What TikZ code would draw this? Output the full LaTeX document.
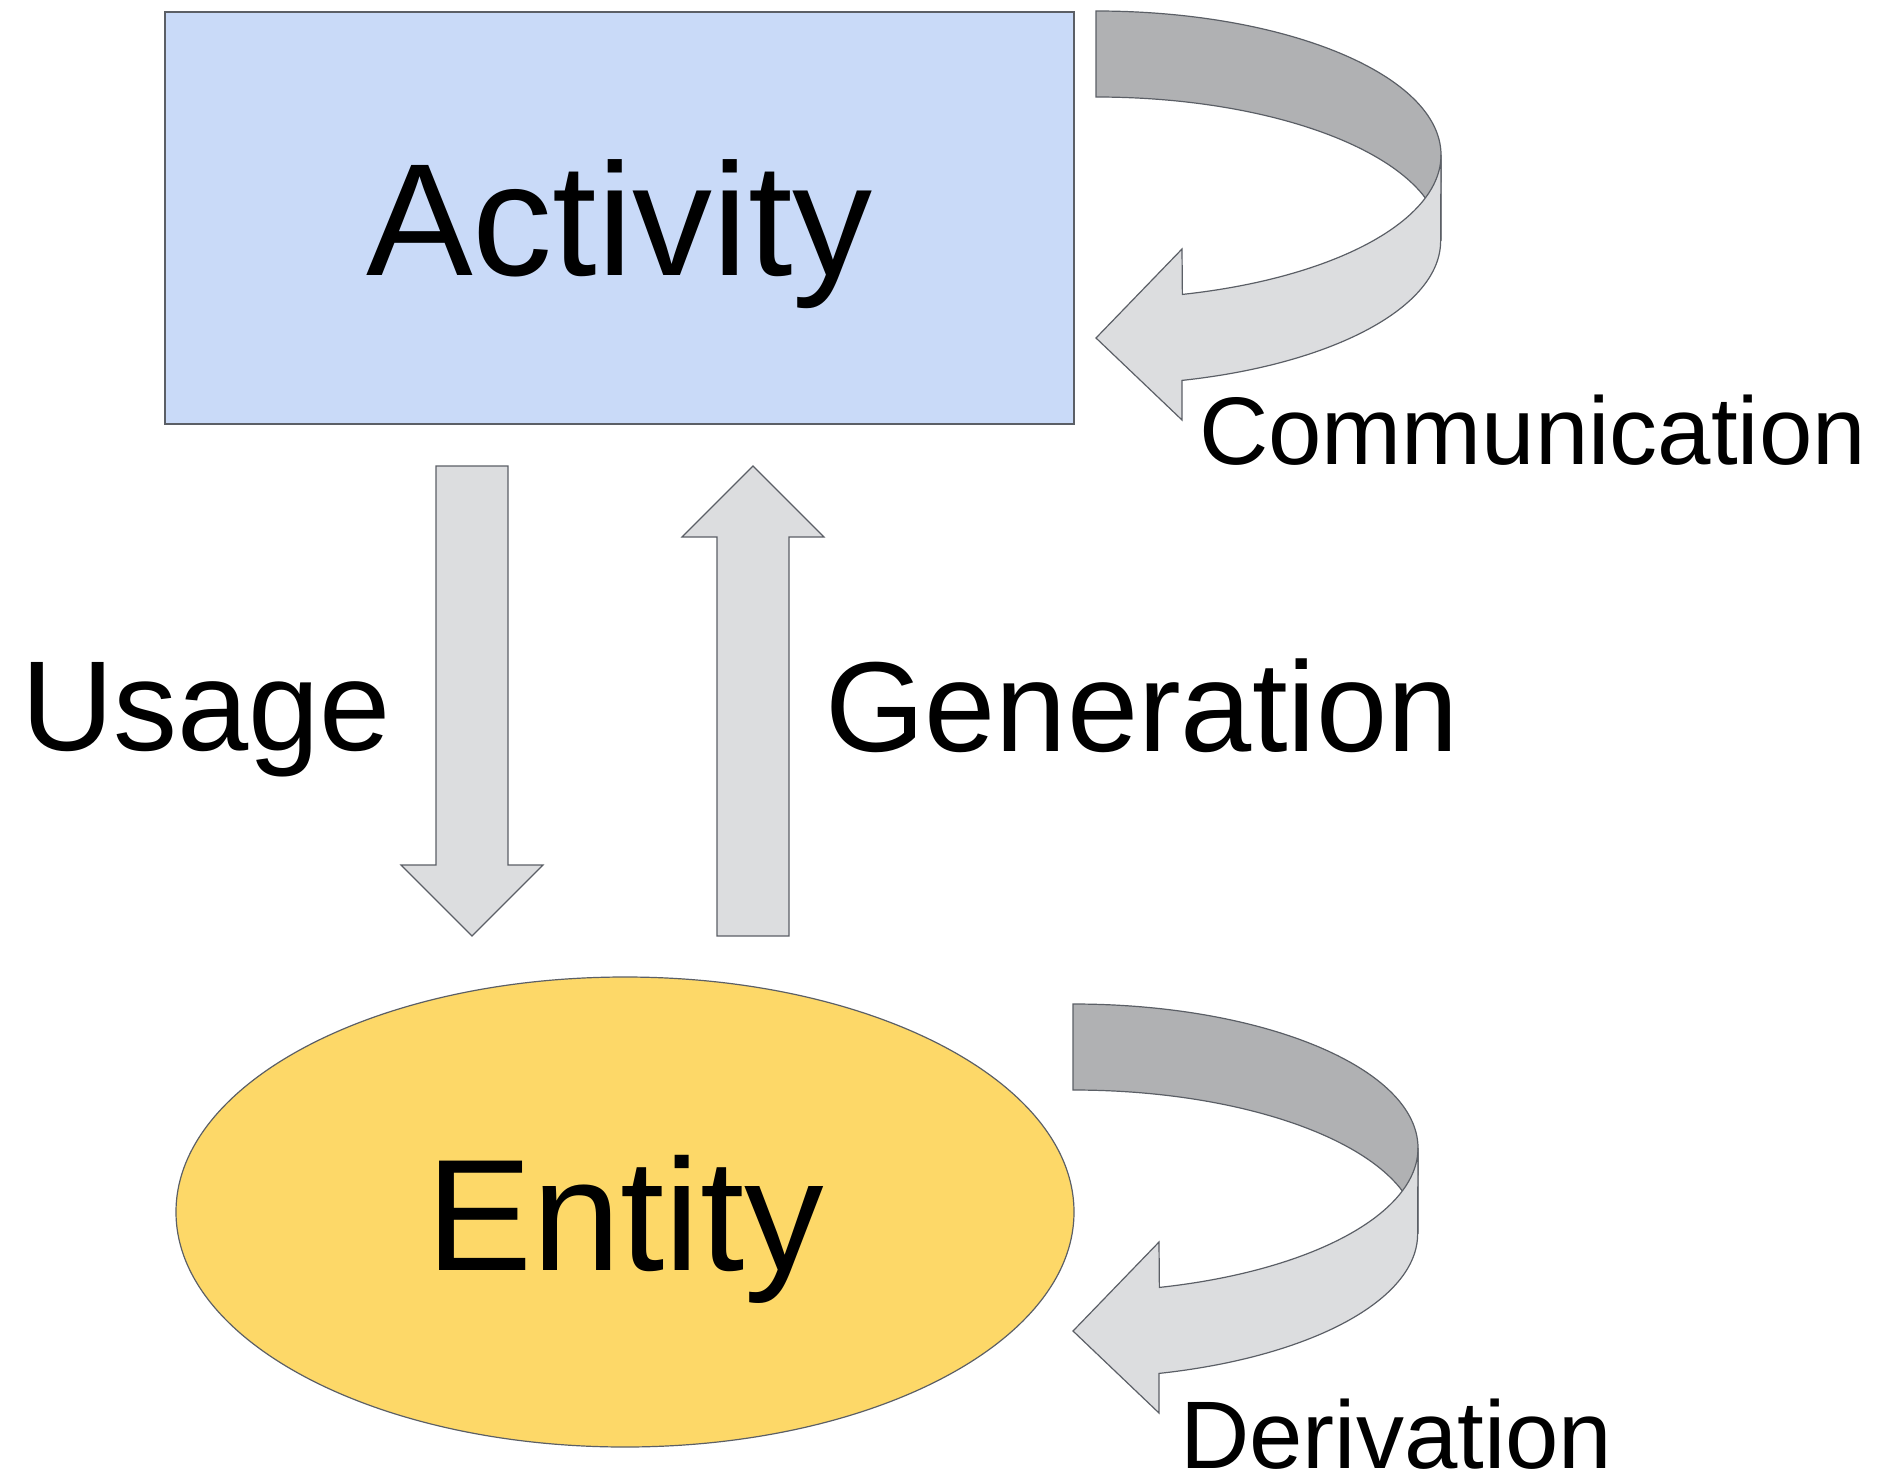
\documentclass[tikz,border=0pt]{standalone}
\usepackage{fontspec}
\setmainfont{Liberation Sans}
\usetikzlibrary{shapes.geometric}
\definecolor{actfill}{HTML}{C9DAF8}
\definecolor{entfill}{HTML}{FDD868}
\definecolor{bandback}{HTML}{B0B1B3}
\definecolor{bandfront}{HTML}{DCDDDF}
\definecolor{edgegray}{HTML}{5B5F66}
\begin{document}
\begin{tikzpicture}[x=1pt, y=-1pt]
\tikzset{provbox/.style={shape=rectangle, draw=edgegray, line width=1.2pt, fill=actfill, minimum width=909pt, minimum height=412pt, inner sep=0pt, text height=115pt, text depth=0pt, font=\fontsize{160}{190}\selectfont}}
\tikzset{provblob/.style={shape=ellipse, draw=edgegray, line width=1.2pt, fill=entfill, minimum width=898pt, minimum height=470pt, inner sep=0pt, text height=116pt, text depth=0pt, font=\fontsize{159}{190}\selectfont}}
\tikzset{blockarrow/.style={draw=edgegray, line width=1.2pt, fill=bandfront, line join=miter}}
\tikzset{ribbonback/.style={draw=edgegray, line width=1.2pt, fill=bandback}}
\tikzset{ribbonfront/.style={draw=edgegray, line width=1.2pt, fill=bandfront, line join=miter}}
\tikzset{provlabel/.style={anchor=base west, inner sep=0pt}}
\useasboundingbox (0,0) rectangle (1900,1474);
% base generic picture
\node (act) [provbox]  at (619.5, 218) {Activity};
\node (ent) [provblob] at (625, 1212)  {Entity};
% straight relations
\draw[blockarrow] (436,466) -- (508,466) -- (508,865) -- (543,865) -- (472,936) -- (401,865) -- (436,865) -- cycle;
\draw[blockarrow] (753,466) -- (824,537) -- (789,537) -- (789,936) -- (717,936) -- (717,537) -- (682,537) -- cycle;
\node (usage) [provlabel, font=\fontsize{128}{150}\selectfont] at (21, 750)  {Usage};
\node (gen)   [provlabel, font=\fontsize{128}{150}\selectfont] at (825, 751) {Generation};
% self relations
\coordinate (commc) at (1096, 155);
\coordinate (derc)  at (1073, 1148);
\foreach \c in {commc, derc} {
  \begin{scope}[shift={(\c)}]
    \draw[ribbonback] (0,-144) arc [start angle=90, end angle=0, x radius=345pt, y radius=144pt]
      -- ++(0,86) arc [start angle=0, end angle=90, x radius=345pt, y radius=144pt] -- cycle;
    \draw[ribbonfront] (345,0) arc [start angle=0, end angle=-75.5, x radius=345pt, y radius=144pt]
      -- (86,94) -- (0,183) -- (86,265) -- (86,225.4)
      arc [start angle=-75.5, end angle=0, x radius=345pt, y radius=144pt] -- cycle;
  \end{scope}
}
\node (comm) [provlabel, font=\fontsize{96}{120}\selectfont] at (1199, 464)  {Communication};
\node (der)  [provlabel, font=\fontsize{96}{120}\selectfont] at (1180, 1468) {Derivation};
\end{tikzpicture}
\end{document}
